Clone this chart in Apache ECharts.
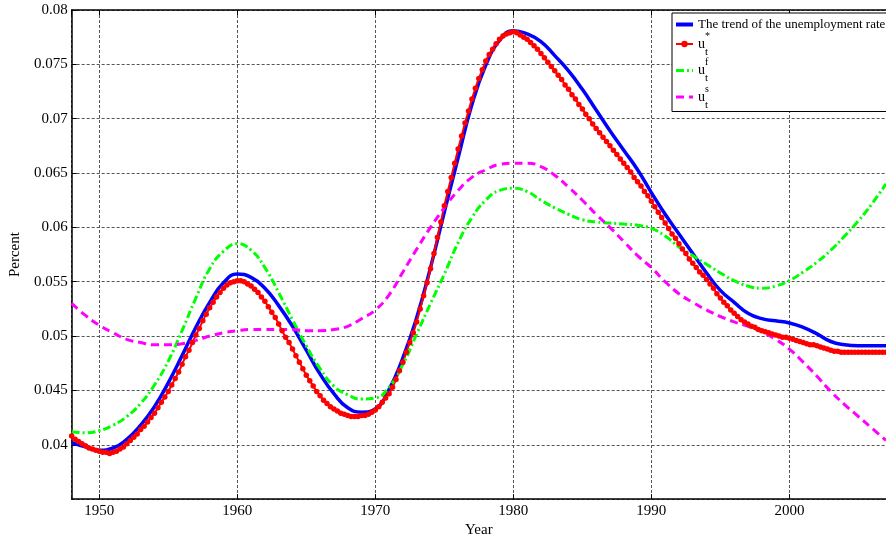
<!DOCTYPE html>
<html>
<head>
<meta charset="utf-8">
<script src="https://cdn.jsdelivr.net/npm/echarts@6/dist/echarts.min.js"></script>
<style>
html,body{margin:0;padding:0;background:#fff;}
#chart{width:886px;height:543px;}
</style>
</head>
<body>
<div id="chart"></div>
<script>
// ---- data ----
const years = [1948,1949,1950,1951,1952,1953,1954,1955,1956,1957,
  1958,1959,1960,1961,1962,1963,1964,1965,1966,1967,
  1968,1969,1970,1971,1972,1973,1974,1975,1976,1977,
  1978,1979,1980,1981,1982,1983,1984,1985,1986,1987,
  1988,1989,1990,1991,1992,1993,1994,1995,1996,1997,
  1998,1999,2000,2001,2002,2003,2004,2005,2006,2007];
const quarterOffsets = [0, 0.25, 0.5, 0.75];

const trendValues = [
  .0402,.0398,.0395,.0397,.0405,.0418,.0435,.0457,.0482,.0508,
  .0531,.0549,.0557,.0554,.0544,.0528,.0509,.0487,.0465,.0447,
  .0434,.0430,.0433,.0451,.0480,.0517,.0563,.0614,.0664,.0713,
  .0749,.0772,.0781,.0778,.0771,.0758,.0744,.0727,.0708,.0689,
  .0671,.0653,.0632,.0612,.0594,.0576,.0558,.0542,.0531,.0521,
  .0516,.0514,.0512,.0508,.0502,.0495,.0492,.0491,.0491,.0491];

const ufValues = [
  .0412,.0411,.0413,.0418,.0426,.0438,.0455,.0477,.0505,.0535,
  .0562,.0578,.0585,.0579,.0563,.0540,.0515,.0491,.0470,.0454,
  .0446,.0442,.0443,.0453,.0474,.0502,.0530,.0557,.0586,.0609,
  .0625,.0634,.0636,.0633,.0625,.0618,.0612,.0607,.0605,.0604,
  .0603,.0602,.0599,.0592,.0582,.0574,.0566,.0558,.0551,.0546,
  .0544,.0546,.0551,.0559,.0568,.0579,.0592,.0606,.0622,.0640];

const usValues = [
  .0530,.0519,.0510,.0503,.0497,.0494,.0492,.0492,.0493,.0496,
  .0500,.0503,.0505,.0506,.0506,.0506,.0506,.0505,.0505,.0506,
  .0509,.0516,.0524,.0538,.0559,.0580,.0600,.0618,.0634,.0646,
  .0653,.0658,.0659,.0659,.0656,.0648,.0637,.0625,.0612,.0600,
  .0587,.0574,.0563,.0550,.0539,.0531,.0524,.0518,.0513,.0509,
  .0504,.0497,.0488,.0476,.0463,.0449,.0437,.0426,.0415,.0404];

// quarterly u* (four values per year, 1948Q1 .. 2007Q4)
const uStarValues = [
  .0408,.0405,.0403,.0401, .0399,.0397,.0396,.0395, .0394,.0393,.0393,.0392, .0393,.0394,.0396,.0398,
  .0401,.0404,.0407,.0410, .0414,.0417,.0421,.0425, .0429,.0434,.0439,.0444, .0449,.0455,.0461,.0467,
  .0474,.0481,.0487,.0494, .0501,.0507,.0514,.0520, .0526,.0531,.0536,.0540, .0544,.0547,.0549,.0550,
  .0551,.0551,.0550,.0548, .0546,.0543,.0540,.0536, .0532,.0527,.0522,.0517, .0511,.0505,.0499,.0494,
  .0488,.0482,.0476,.0470, .0464,.0459,.0454,.0449, .0445,.0441,.0438,.0435, .0433,.0431,.0429,.0428,
  .0427,.0426,.0426,.0426, .0427,.0427,.0428,.0430, .0432,.0435,.0439,.0443, .0447,.0453,.0460,.0468,
  .0476,.0485,.0494,.0503, .0513,.0525,.0537,.0549, .0562,.0576,.0591,.0605, .0620,.0633,.0646,.0659,
  .0672,.0684,.0696,.0707, .0718,.0728,.0737,.0745, .0753,.0759,.0764,.0769, .0773,.0776,.0778,.0779,
  .0780,.0779,.0777,.0775, .0773,.0770,.0767,.0764, .0760,.0756,.0752,.0748, .0744,.0740,.0736,.0731,
  .0727,.0722,.0718,.0713, .0709,.0704,.0700,.0695, .0691,.0687,.0683,.0679, .0675,.0671,.0667,.0663,
  .0659,.0655,.0651,.0646, .0642,.0638,.0633,.0629, .0624,.0619,.0614,.0609, .0604,.0599,.0594,.0590,
  .0585,.0580,.0576,.0571, .0567,.0563,.0559,.0556, .0552,.0548,.0544,.0539, .0535,.0531,.0528,.0524,
  .0521,.0518,.0515,.0513, .0511,.0509,.0508,.0506, .0505,.0504,.0503,.0502, .0501,.0500,.0499,.0499,
  .0498,.0497,.0496,.0495, .0494,.0493,.0492,.0492, .0491,.0490,.0489,.0488, .0487,.0486,.0486,.0485,
  .0485,.0485,.0485,.0485, .0485,.0485,.0485,.0485, .0485,.0485,.0485,.0485, .0485,.0485,.0485,.0485];

const seriesNames = ['The trend of the unemployment rate', 'u*', 'uf', 'us'];
const yTicks = {min: 0.035, max: 0.08, step: 0.005};
const xRange = {min: 1948, max: 2007};

// ---- build ----
const quarters = [];
years.forEach(y => quarterOffsets.forEach(q => quarters.push(y + q)));
const pair = (xs, vs) => vs.map((v, i) => [xs[i], v]);

const FONT = 'Liberation Serif';
const gridLine = {show: true, lineStyle: {color: '#555', type: [3, 2], width: 1}};
const hiddenSymbol = {color: 'rgba(0,0,0,0)', borderWidth: 0, opacity: 0};

const chart = echarts.init(document.getElementById('chart'), null, {renderer: 'canvas'});
chart.setOption({
  animation: false,
  backgroundColor: '#fff',
  textStyle: {fontFamily: FONT, color: '#000'},
  grid: {left: 68, right: -5, top: 10, bottom: 38, containLabel: false},
  xAxis: [{
    type: 'value', min: xRange.min, max: xRange.max,
    name: 'Year', nameLocation: 'middle', nameGap: 17,
    nameTextStyle: {fontFamily: FONT, fontSize: 15, color: '#000'},
    axisLine: {show: true, lineStyle: {color: '#000', width: 1.5}},
    axisTick: {show: true, inside: true, length: 5, lineStyle: {color: '#000'}},
    axisLabel: {fontFamily: FONT, fontSize: 15, color: '#000', margin: 4,
      showMinLabel: false, showMaxLabel: false,
      formatter: v => String(Math.round(v))},
    splitLine: gridLine
  }, {
    type: 'value', position: 'top', min: xRange.min, max: xRange.max,
    axisLine: {show: true, onZero: false, lineStyle: {color: '#000', width: 1.5}},
    axisTick: {show: true, inside: true, length: 5, lineStyle: {color: '#000'}},
    axisLabel: {show: false}, splitLine: {show: false}
  }],
  yAxis: [{
    type: 'value', min: yTicks.min, max: yTicks.max, interval: yTicks.step,
    name: 'Percent', nameLocation: 'middle', nameGap: 45,
    nameTextStyle: {fontFamily: FONT, fontSize: 15, color: '#000'},
    axisLine: {show: true, onZero: false, lineStyle: {color: '#000', width: 1.5}},
    axisTick: {show: true, inside: true, length: 5, lineStyle: {color: '#000'}},
    axisLabel: {fontFamily: FONT, fontSize: 15, color: '#000', margin: 4,
      showMinLabel: false,
      formatter: v => String(+v.toFixed(4))},
    splitLine: gridLine
  }],
  legend: {
    orient: 'vertical', left: 672, top: 13,
    padding: [5, 6, 1, 2], itemGap: 0, itemWidth: 17, itemHeight: 8,
    align: 'left',
    borderColor: '#000', borderWidth: 1, borderRadius: 0, backgroundColor: '#fff',
    data: [
      {name: seriesNames[0], itemStyle: hiddenSymbol, lineStyle: {width: 4}},
      {name: seriesNames[1], lineStyle: {width: 2}},
      {name: seriesNames[2], itemStyle: hiddenSymbol, lineStyle: {width: 3}},
      {name: seriesNames[3], itemStyle: hiddenSymbol, lineStyle: {width: 3}}
    ],
    textStyle: {
      fontFamily: FONT, fontSize: 13, color: '#000',
      rich: {
        p: {width: 7, fontSize: 10, lineHeight: 8, fontFamily: FONT},
        s: {fontSize: 10, lineHeight: 8, fontFamily: FONT, color: '#000'},
        u: {fontSize: 14, lineHeight: 8, fontFamily: FONT, color: '#000'},
        t: {fontSize: 11, lineHeight: 8, fontFamily: FONT, color: '#000'}
      }
    },
    formatter: function (name) {
      if (name.charAt(0) === 'u' && name.length === 2) {
        return '{p|}{s|' + name.charAt(1) + '}\n{u|u}\n{p|}{t|t}';
      }
      return name;
    }
  },
  series: [{
    name: seriesNames[0], type: 'line', smooth: 0.5, symbol: 'none',
    data: pair(years, trendValues),
    lineStyle: {color: '#0000ff', width: 3.5}, itemStyle: {color: '#0000ff'}
  }, {
    name: seriesNames[1], type: 'line', smooth: 0.3, symbol: 'circle', symbolSize: 5.5,
    showAllSymbol: true,
    data: pair(quarters, uStarValues),
    lineStyle: {color: '#ff0000', width: 2}, itemStyle: {color: '#ff0000'}
  }, {
    name: seriesNames[2], type: 'line', smooth: 0.5, symbol: 'none',
    data: pair(years, ufValues),
    lineStyle: {color: '#00ff00', width: 3, type: [8, 3, 2, 3]}, itemStyle: {color: '#00ff00'}
  }, {
    name: seriesNames[3], type: 'line', smooth: 0.5, symbol: 'none',
    data: pair(years, usValues),
    lineStyle: {color: '#ff00ff', width: 3, type: [8, 5]}, itemStyle: {color: '#ff00ff'}
  }]
});
</script>
</body>
</html>
